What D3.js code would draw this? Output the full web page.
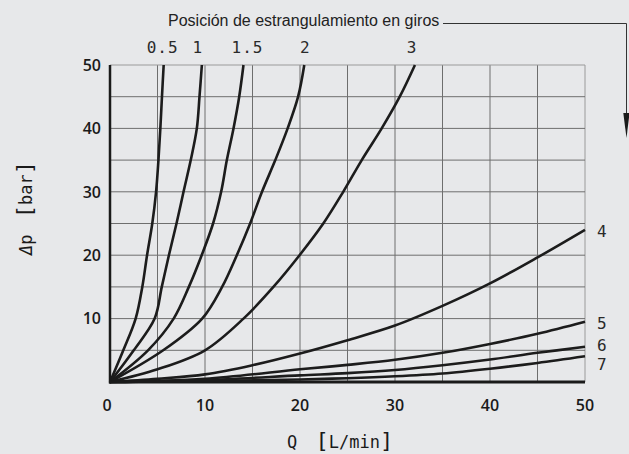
<!DOCTYPE html>
<html>
<head>
<meta charset="utf-8">
<script src="https://cdn.jsdelivr.net/npm/d3@7"></script>
<style>
  html, body { margin: 0; padding: 0; background: #e7e8ea; }
  svg { display: block; }
</style>
</head>
<body>
<div id="viz"></div>
<script>
// throttle position (turns) for each curve
const turns = ["0.5", "1", "1.5", "2", "3", "4", "5", "6", "7"];

// [Q l/min, dp bar]
const curve05 = [[0,0],[1.4,5],[2.7,10],[3.4,15],[3.9,20],[4.45,25],[4.85,30],[5.1,35],[5.3,40],[5.47,45],[5.65,50]];
const curve1  = [[0,0],[2.5,5],[4.7,10],[5.45,15],[6.2,20],[7.0,25],[7.74,30],[8.5,35],[9.14,40],[9.42,45],[9.67,50]];
const curve15 = [[0,0],[4.0,5],[6.7,10],[8.3,15],[9.65,20],[10.85,25],[11.7,30],[12.3,35],[13.0,40],[13.6,45],[14.05,50]];
const curve2  = [[0,0],[5.6,5],[9.7,10],[11.8,15],[13.35,20],[14.75,25],[16.0,30],[17.4,35],[18.7,40],[19.8,45],[20.45,50]];
const curve3  = [[0,0],[5,2],[10,5],[14.05,10],[17.2,15],[19.95,20],[22.45,25],[24.55,30],[26.5,35],[28.6,40],[30.5,45],[32.1,50]];
const curve4  = [[0,0],[5,0.5],[10,1.2],[15,2.65],[20,4.5],[25,6.6],[30,8.9],[35,12.0],[40,15.55],[45,19.65],[50,24.0]];
const curve5  = [[0,0],[10,0.5],[20,2.0],[25,2.7],[30,3.5],[35,4.6],[40,6.0],[45,7.6],[50,9.5]];
const curve6  = [[0,0],[10,0.3],[20,1.05],[25,1.4],[30,1.9],[35,2.65],[40,3.55],[45,4.6],[50,5.55]];
const curve7  = [[0,0],[10,0.15],[20,0.4],[25,0.6],[30,0.9],[35,1.35],[40,2.1],[45,3.0],[50,4.05]];
const curves = [curve05, curve1, curve15, curve2, curve3, curve4, curve5, curve6, curve7];

const xTicks = [0, 10, 20, 30, 40, 50];
const yTicks = [10, 20, 30, 40, 50];
const gridStep = [0, 5, 10, 15, 20, 25, 30, 35, 40, 45, 50];

const title = "Posición de estrangulamiento en giros";

const W = 629, H = 454;
const margin = {top: 65, right: 44, bottom: 72, left: 110};

const svg = d3.select("#viz")
  .append("svg")
    .attr("width", W)
    .attr("height", H);

svg.append("rect")
  .attr("width", W)
  .attr("height", H)
  .attr("fill", "#e7e8ea");

const x = d3.scaleLinear().domain([0, 50]).range([margin.left, W - margin.right]);
const y = d3.scaleLinear().domain([0, 50]).range([H - margin.bottom, margin.top]);

// grid
svg.append("g")
  .selectAll("line")
  .data(gridStep.slice(1))
  .join("line")
    .attr("x1", d => x(d)).attr("x2", d => x(d))
    .attr("y1", y(0)).attr("y2", y(50))
    .attr("stroke", d => d === 50 ? "#9a9a9a" : "#6e6e6e")
    .attr("stroke-width", 1);

svg.append("g")
  .selectAll("line")
  .data(gridStep.slice(1))
  .join("line")
    .attr("x1", x(0)).attr("x2", x(50))
    .attr("y1", d => y(d)).attr("y2", d => y(d))
    .attr("stroke", d => d === 50 ? "#9a9a9a" : "#6e6e6e")
    .attr("stroke-width", 1);

// curves
const line = d3.line()
  .x(d => x(d[0]))
  .y(d => y(d[1]))
  .curve(d3.curveCatmullRom.alpha(0.5));

svg.append("g")
  .selectAll("path")
  .data(curves)
  .join("path")
    .attr("d", line)
    .attr("fill", "none")
    .attr("stroke", "#1c1c1c")
    .attr("stroke-width", 2.6)
    .attr("stroke-linejoin", "round");

// axes (thick left and bottom)
svg.append("line")
  .attr("x1", x(0)).attr("x2", x(0))
  .attr("y1", y(0) + 1.5).attr("y2", y(50))
  .attr("stroke", "#1a1a1a").attr("stroke-width", 2.5);
svg.append("line")
  .attr("x1", x(0) - 1).attr("x2", x(50))
  .attr("y1", y(0)).attr("y2", y(0))
  .attr("stroke", "#1a1a1a").attr("stroke-width", 2.8);

// tick labels
const tickFont = "'Open Sans', sans-serif";
svg.append("g")
  .selectAll("text")
  .data(yTicks)
  .join("text")
    .attr("x", x(0) - 9)
    .attr("y", d => y(d))
    .attr("dy", "0.36em")
    .attr("text-anchor", "end")
    .style("font-family", tickFont)
    .style("font-weight", 600)
    .style("font-size", "16px")
    .attr("fill", "#1a1a1a")
    .text(d => d);

svg.append("g")
  .selectAll("text")
  .data(xTicks)
  .join("text")
    .attr("x", d => x(d) - (d === 0 ? 3 : 0))
    .attr("y", y(0) + 23)
    .attr("dy", "0.36em")
    .attr("text-anchor", "middle")
    .style("font-family", tickFont)
    .style("font-weight", 600)
    .style("font-size", "16px")
    .attr("fill", "#1a1a1a")
    .text(d => d);

// curve labels
const monoFont = "'DejaVu Sans Mono', monospace";
const topLabelDx = [-1, -4, 4, 1, -3];
svg.append("g")
  .selectAll("text")
  .data(turns.slice(0, 5))
  .join("text")
    .attr("x", (d, i) => x(curves[i][curves[i].length - 1][0]) + topLabelDx[i])
    .attr("y", 53)
    .attr("text-anchor", "middle")
    .style("font-family", monoFont)
    .style("font-size", "16px")
    .style("letter-spacing", "1px")
    .attr("fill", "#2a2a2a")
    .text(d => d);

const sideLabelDy = [1, 1, -2, 8];
svg.append("g")
  .selectAll("text")
  .data(turns.slice(5))
  .join("text")
    .attr("x", x(50) + 12)
    .attr("y", (d, i) => y(curves[i + 5][curves[i + 5].length - 1][1]) + sideLabelDy[i])
    .attr("dy", "0.36em")
    .style("font-family", monoFont)
    .style("font-size", "16px")
    .attr("fill", "#2a2a2a")
    .text(d => d);

// axis titles
const xTitle = svg.append("text")
  .attr("x", 287)
  .attr("y", 448)
  .style("font-family", monoFont)
  .style("font-size", "17px")
  .attr("fill", "#1a1a1a");
xTitle.append("tspan").text("Q ");
xTitle.append("tspan").attr("dx", 8).style("font-size", "22px").text("[");
xTitle.append("tspan").text("L/min");
xTitle.append("tspan").style("font-size", "22px").text("]");

const yTitle = svg.append("text")
  .attr("transform", "translate(32,208) rotate(-90)")
  .attr("text-anchor", "middle")
  .style("font-family", monoFont)
  .style("font-size", "17px")
  .attr("fill", "#1a1a1a");
yTitle.append("tspan").style("font-style", "italic").text("Δ");
yTitle.append("tspan").text("p ");
yTitle.append("tspan").attr("dx", 6).style("font-size", "22px").text("[");
yTitle.append("tspan").text("bar");
yTitle.append("tspan").style("font-size", "22px").text("]");

// title with leader arrow
svg.append("text")
  .attr("x", 168)
  .attr("y", 25.5)
  .style("font-family", "'Liberation Sans', Arial, sans-serif")
  .style("font-size", "16px")
  .attr("fill", "#222")
  .text(title);

svg.append("path")
  .attr("d", "M443,23.5 H626.5 V116")
  .attr("fill", "none")
  .attr("stroke", "#333")
  .attr("stroke-width", 1);

svg.append("path")
  .attr("d", "M623.3,113 L629.5,113 L626.5,138 Z")
  .attr("fill", "#1a1a1a");
</script>
</body>
</html>
